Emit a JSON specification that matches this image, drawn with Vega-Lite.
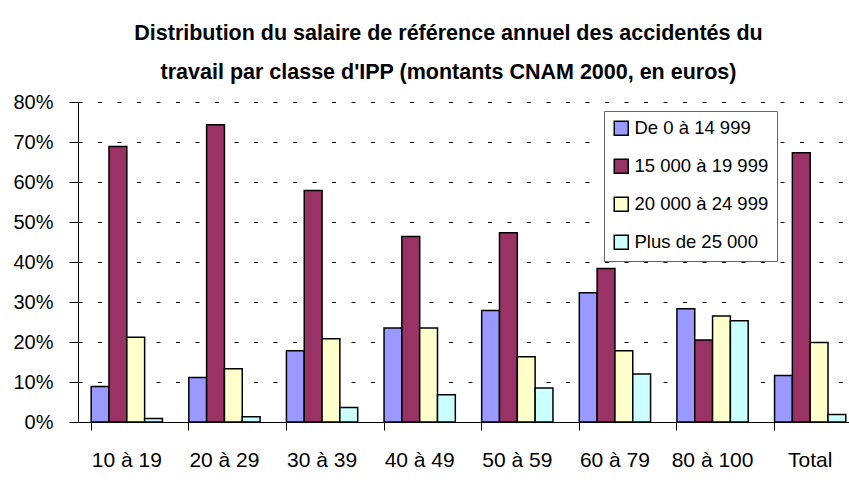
{
  "$schema": "https://vega.github.io/schema/vega-lite/v6.json",
  "width": 781,
  "height": 320,
  "autosize": {"type": "none"},
  "padding": {"left": 78, "top": 102, "right": 0, "bottom": 62},
  "background": "white",
  "title": {
    "text": ["Distribution du salaire de référence annuel des accidentés du", "travail par classe d'IPP (montants CNAM 2000, en euros)"],
    "font": "Liberation Sans",
    "fontSize": 21.5,
    "fontWeight": "bold",
    "color": "black",
    "anchor": "middle",
    "lineHeight": 39,
    "offset": 9,
    "dx": -20
  },
  "data": {
    "values": [
      {"classe": "10 à 19", "tranche": "De 0 à 14 999", "part": 0.089},
      {"classe": "10 à 19", "tranche": "15 000 à 19 999", "part": 0.689},
      {"classe": "10 à 19", "tranche": "20 000 à 24 999", "part": 0.212},
      {"classe": "10 à 19", "tranche": "Plus de 25 000", "part": 0.009},
      {"classe": "20 à 29", "tranche": "De 0 à 14 999", "part": 0.111},
      {"classe": "20 à 29", "tranche": "15 000 à 19 999", "part": 0.743},
      {"classe": "20 à 29", "tranche": "20 000 à 24 999", "part": 0.133},
      {"classe": "20 à 29", "tranche": "Plus de 25 000", "part": 0.013},
      {"classe": "30 à 39", "tranche": "De 0 à 14 999", "part": 0.178},
      {"classe": "30 à 39", "tranche": "15 000 à 19 999", "part": 0.579},
      {"classe": "30 à 39", "tranche": "20 000 à 24 999", "part": 0.208},
      {"classe": "30 à 39", "tranche": "Plus de 25 000", "part": 0.036},
      {"classe": "40 à 49", "tranche": "De 0 à 14 999", "part": 0.235},
      {"classe": "40 à 49", "tranche": "15 000 à 19 999", "part": 0.464},
      {"classe": "40 à 49", "tranche": "20 000 à 24 999", "part": 0.235},
      {"classe": "40 à 49", "tranche": "Plus de 25 000", "part": 0.068},
      {"classe": "50 à 59", "tranche": "De 0 à 14 999", "part": 0.279},
      {"classe": "50 à 59", "tranche": "15 000 à 19 999", "part": 0.473},
      {"classe": "50 à 59", "tranche": "20 000 à 24 999", "part": 0.163},
      {"classe": "50 à 59", "tranche": "Plus de 25 000", "part": 0.085},
      {"classe": "60 à 79", "tranche": "De 0 à 14 999", "part": 0.323},
      {"classe": "60 à 79", "tranche": "15 000 à 19 999", "part": 0.384},
      {"classe": "60 à 79", "tranche": "20 000 à 24 999", "part": 0.178},
      {"classe": "60 à 79", "tranche": "Plus de 25 000", "part": 0.12},
      {"classe": "80 à 100", "tranche": "De 0 à 14 999", "part": 0.283},
      {"classe": "80 à 100", "tranche": "15 000 à 19 999", "part": 0.205},
      {"classe": "80 à 100", "tranche": "20 000 à 24 999", "part": 0.265},
      {"classe": "80 à 100", "tranche": "Plus de 25 000", "part": 0.253},
      {"classe": "Total", "tranche": "De 0 à 14 999", "part": 0.116},
      {"classe": "Total", "tranche": "15 000 à 19 999", "part": 0.673},
      {"classe": "Total", "tranche": "20 000 à 24 999", "part": 0.199},
      {"classe": "Total", "tranche": "Plus de 25 000", "part": 0.019}
    ]
  },
  "mark": {"type": "bar", "stroke": "black", "strokeWidth": 1.5},
  "encoding": {
    "x": {
      "field": "classe",
      "type": "nominal",
      "sort": ["10 à 19", "20 à 29", "30 à 39", "40 à 49", "50 à 59", "60 à 79", "80 à 100", "Total"],
      "scale": {"paddingInner": 0.27, "paddingOuter": 0.135},
      "axis": {
        "title": null,
        "labelAngle": 0,
        "labelFont": "Liberation Sans",
        "labelFontSize": 21,
        "labelColor": "black",
        "labelPadding": 19,
        "domainColor": "black",
        "domainWidth": 1,
        "tickColor": "black",
        "tickSize": 8,
        "bandPosition": 0,
        "grid": false
      }
    },
    "xOffset": {
      "field": "tranche",
      "type": "nominal",
      "sort": ["De 0 à 14 999", "15 000 à 19 999", "20 000 à 24 999", "Plus de 25 000"],
      "scale": {"paddingInner": 0, "paddingOuter": 0}
    },
    "y": {
      "field": "part",
      "type": "quantitative",
      "scale": {"domain": [0, 0.8], "nice": false},
      "axis": {
        "title": null,
        "format": ".0%",
        "values": [0, 0.1, 0.2, 0.3, 0.4, 0.5, 0.6, 0.7, 0.8],
        "labelFont": "Liberation Sans",
        "labelFontSize": 20,
        "labelColor": "black",
        "labelPadding": 16,
        "tickColor": "black",
        "tickSize": 9,
        "domainColor": "black",
        "grid": true,
        "gridColor": "black",
        "gridDash": [4, 15.5],
        "gridWidth": 1
      }
    },
    "fill": {
      "field": "tranche",
      "type": "nominal",
      "sort": ["De 0 à 14 999", "15 000 à 19 999", "20 000 à 24 999", "Plus de 25 000"],
      "scale": {
        "domain": ["De 0 à 14 999", "15 000 à 19 999", "20 000 à 24 999", "Plus de 25 000"],
        "range": ["#9999FF", "#993366", "#FFFFCC", "#CCFFFF"]
      },
      "legend": {
        "title": null,
        "orient": "none",
        "legendX": 526,
        "legendY": 9,
        "symbolType": "square",
        "symbolSize": 196,
        "symbolStrokeColor": "black",
        "symbolStrokeWidth": 1.5,
        "symbolOpacity": 1,
        "labelFont": "Liberation Sans",
        "labelFontSize": 18.5,
        "labelColor": "black",
        "labelOffset": 4,
        "rowPadding": 17,
        "padding": 8,
        "strokeColor": "#666666",
        "fillColor": "white",
        "labelLimit": 300
      }
    }
  },
  "config": {
    "view": {"stroke": null},
    "axis": {"labelFont": "Liberation Sans"}
  }
}
